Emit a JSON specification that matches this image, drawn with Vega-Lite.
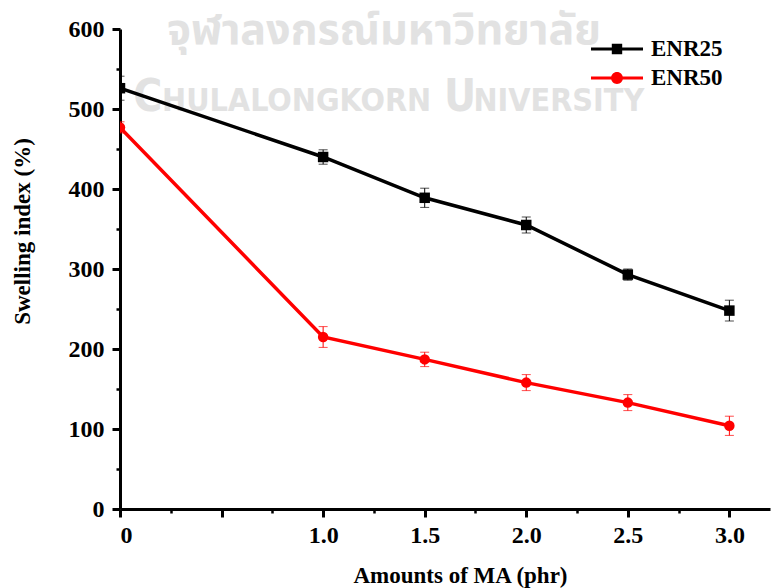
{
  "$schema": "https://vega.github.io/schema/vega-lite/v6.json",
  "width": 650,
  "height": 480,
  "autosize": {"type": "none"},
  "padding": {"left": 120, "top": 29, "right": 1, "bottom": 79},
  "background": "white",
  "config": {
    "view": {"stroke": null},
    "font": "Liberation Serif",
    "axis": {
      "grid": false,
      "domainColor": "#000000",
      "domainWidth": 3,
      "tickColor": "#000000",
      "tickWidth": 3,
      "tickSize": 8,
      "labelFont": "Liberation Serif",
      "labelFontSize": 24,
      "labelFontWeight": "bold",
      "labelColor": "#000000",
      "titleFont": "Liberation Serif",
      "titleFontSize": 23,
      "titleFontWeight": "bold",
      "titleColor": "#000000"
    }
  },
  "data": {
    "values": [
      {"series": "ENR25", "x": 0, "y": 526, "lo": 511, "hi": 541},
      {"series": "ENR25", "x": 1.0, "y": 440, "lo": 431, "hi": 449},
      {"series": "ENR25", "x": 1.5, "y": 389, "lo": 377, "hi": 401},
      {"series": "ENR25", "x": 2.0, "y": 355, "lo": 345, "hi": 365},
      {"series": "ENR25", "x": 2.5, "y": 293, "lo": 286, "hi": 300},
      {"series": "ENR25", "x": 3.0, "y": 248, "lo": 235, "hi": 261},
      {"series": "ENR50", "x": 0, "y": 477, "lo": 470, "hi": 484},
      {"series": "ENR50", "x": 1.0, "y": 215, "lo": 202, "hi": 228},
      {"series": "ENR50", "x": 1.5, "y": 187, "lo": 178, "hi": 196},
      {"series": "ENR50", "x": 2.0, "y": 158, "lo": 148, "hi": 168},
      {"series": "ENR50", "x": 2.5, "y": 133, "lo": 123, "hi": 143},
      {"series": "ENR50", "x": 3.0, "y": 104, "lo": 92, "hi": 116}
    ]
  },
  "resolve": {"axis": {"x": "independent", "y": "independent"}},
  "layer": [
    {
      "data": {"values": [{}]},
      "mark": {"type": "text", "text": "จุฬาลงกรณ์มหาวิทยาลัย", "fontSize": 43, "fontWeight": "bold", "color": "#e2e2e2", "font": "Noto Sans Thai, Noto Sans, sans-serif", "align": "center", "baseline": "alphabetic"},
      "encoding": {
        "x": {"datum": 1.3, "type": "quantitative", "scale": {"domain": [0, 3.2], "nice": false}, "axis": null},
        "y": {"datum": 581, "type": "quantitative", "scale": {"domain": [0, 600], "nice": false}, "axis": null}
      }
    },
    {
      "data": {"values": [{}]},
      "mark": {"type": "text", "text": "C", "fontSize": 44, "fontWeight": "bold", "color": "#e2e2e2", "font": "Liberation Sans Narrow, DejaVu Sans Condensed, sans-serif", "align": "left", "baseline": "alphabetic"},
      "encoding": {
        "x": {"datum": 0.065, "type": "quantitative", "axis": null},
        "y": {"datum": 498, "type": "quantitative", "axis": null}
      }
    },
    {
      "data": {"values": [{}]},
      "mark": {"type": "text", "text": "HULALONGKORN", "fontSize": 32, "fontWeight": "bold", "color": "#e2e2e2", "font": "Liberation Sans Narrow, DejaVu Sans Condensed, sans-serif", "align": "left", "baseline": "alphabetic"},
      "encoding": {
        "x": {"datum": 0.207, "type": "quantitative", "axis": null},
        "y": {"datum": 498, "type": "quantitative", "axis": null}
      }
    },
    {
      "data": {"values": [{}]},
      "mark": {"type": "text", "text": "U", "fontSize": 44, "fontWeight": "bold", "color": "#e2e2e2", "font": "Liberation Sans Narrow, DejaVu Sans Condensed, sans-serif", "align": "left", "baseline": "alphabetic"},
      "encoding": {
        "x": {"datum": 1.595, "type": "quantitative", "axis": null},
        "y": {"datum": 498, "type": "quantitative", "axis": null}
      }
    },
    {
      "data": {"values": [{}]},
      "mark": {"type": "text", "text": "NIVERSITY", "fontSize": 32, "fontWeight": "bold", "color": "#e2e2e2", "font": "Liberation Sans Narrow, DejaVu Sans Condensed, sans-serif", "align": "left", "baseline": "alphabetic"},
      "encoding": {
        "x": {"datum": 1.74, "type": "quantitative", "axis": null},
        "y": {"datum": 498, "type": "quantitative", "axis": null}
      }
    },
    {
      "mark": {"type": "rule", "strokeWidth": 1, "clip": true},
      "encoding": {
        "x": {"field": "x", "type": "quantitative", "axis": null},
        "y": {"field": "lo", "type": "quantitative", "axis": null},
        "y2": {"field": "hi"},
        "color": {"field": "series", "type": "nominal", "scale": {"domain": ["ENR25", "ENR50"], "range": ["#000000", "#ff0000"]}}
      }
    },
    {
      "mark": {"type": "tick", "orient": "horizontal", "size": 9, "thickness": 1, "clip": true},
      "encoding": {
        "x": {"field": "x", "type": "quantitative", "axis": null},
        "y": {"field": "lo", "type": "quantitative", "axis": null},
        "color": {"field": "series", "type": "nominal"}
      }
    },
    {
      "mark": {"type": "tick", "orient": "horizontal", "size": 9, "thickness": 1, "clip": true},
      "encoding": {
        "x": {"field": "x", "type": "quantitative", "axis": null},
        "y": {"field": "hi", "type": "quantitative", "axis": null},
        "color": {"field": "series", "type": "nominal"}
      }
    },
    {
      "mark": {"type": "line", "strokeWidth": 3.5, "clip": true},
      "encoding": {
        "x": {
          "field": "x", "type": "quantitative",
          "axis": {
            "orient": "bottom",
            "title": "Amounts of MA (phr)",
            "values": [0, 0.5, 1, 1.5, 2, 2.5, 3],
            "labelExpr": "datum.value == 0 ? '0' : (datum.value == 0.5 ? '' : format(datum.value, '.1f'))",
            "labelPadding": 6,
            "titlePadding": 17,
            "titleX": 340
          }
        },
        "y": {
          "field": "y", "type": "quantitative",
          "axis": {
            "orient": "left",
            "title": "Swelling index (%)",
            "values": [0, 100, 200, 300, 400, 500, 600],
            "format": "d",
            "labelPadding": 8,
            "titlePadding": 34,
            "titleY": 202
          }
        },
        "color": {"field": "series", "type": "nominal"}
      }
    },
    {
      "transform": [{"filter": "datum.series === 'ENR25'"}],
      "mark": {"type": "point", "filled": true, "opacity": 1, "size": 110, "shape": "square", "clip": true},
      "encoding": {
        "x": {
          "field": "x", "type": "quantitative",
          "axis": {"orient": "bottom", "values": [0.25, 0.75, 1.25, 1.75, 2.25, 2.75], "labels": false, "domain": false, "tickSize": 4, "tickWidth": 2.5, "title": null}
        },
        "y": {
          "field": "y", "type": "quantitative",
          "axis": {"orient": "left", "values": [50, 150, 250, 350, 450, 550], "labels": false, "domain": false, "tickSize": 4, "tickWidth": 2.5, "title": null}
        },
        "color": {
          "field": "series", "type": "nominal",
          "legend": {
            "title": null,
            "orient": "none",
            "legendX": 484,
            "legendY": 7,
            "padding": 0,
            "symbolSize": 676,
            "symbolStrokeWidth": 0,
            "symbolOpacity": 1,
            "labelOffset": 21,
            "rowPadding": 4,
            "labelFont": "Liberation Serif",
            "labelFontSize": 23,
            "labelFontWeight": "bold",
            "labelColor": "#000000",
            "encode": {
              "symbols": {
                "update": {
                  "shape": {"signal": "datum.value === 'ENR25' ? 'M-2,-0.115H2V0.115H-2Z M-0.4,-0.4H0.4V0.4H-0.4Z' : 'M-2,-0.115H2V0.115H-2Z M-0.46,0A0.46,0.46,0,1,1,0.46,0A0.46,0.46,0,1,1,-0.46,0Z'"},
                  "strokeWidth": {"value": 0},
                  "opacity": {"value": 1}
                }
              }
            }
          }
        }
      }
    },
    {
      "transform": [{"filter": "datum.series === 'ENR50'"}],
      "mark": {"type": "point", "filled": true, "opacity": 1, "size": 110, "shape": "circle", "clip": true},
      "encoding": {
        "x": {"field": "x", "type": "quantitative", "axis": null},
        "y": {"field": "y", "type": "quantitative", "axis": null},
        "color": {"field": "series", "type": "nominal"}
      }
    }
  ]
}
